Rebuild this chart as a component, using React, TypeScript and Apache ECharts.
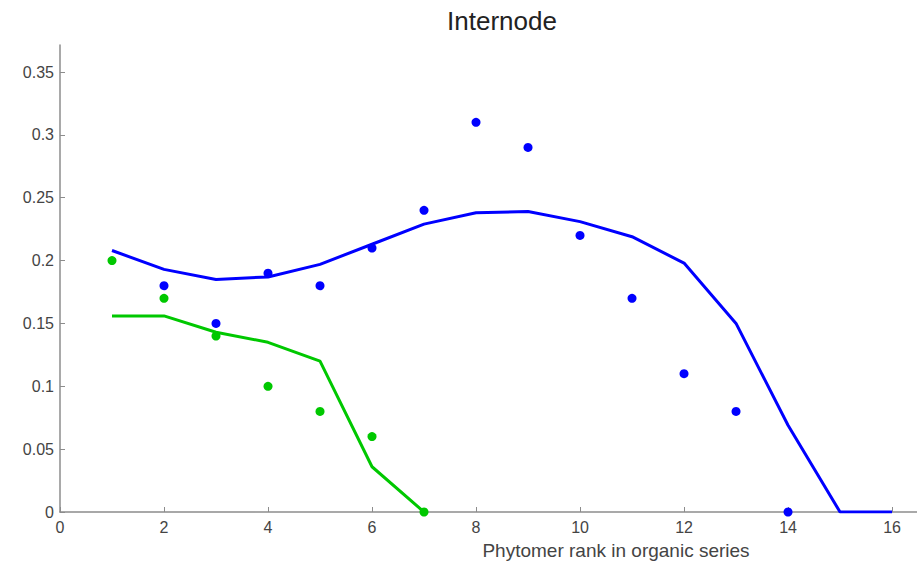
import React, { useEffect, useRef } from "react";
import * as echarts from "echarts";

const blueDotX = [2, 3, 4, 5, 6, 7, 8, 9, 10, 11, 12, 13, 14];
const blueDotY = [0.18, 0.15, 0.19, 0.18, 0.21, 0.24, 0.31, 0.29, 0.22, 0.17, 0.11, 0.08, 0];
const greenDotX = [1, 2, 3, 4, 5, 6, 7];
const greenDotY = [0.2, 0.17, 0.14, 0.1, 0.08, 0.06, 0];
const blueLineX = [1, 2, 3, 4, 5, 6, 7, 8, 9, 10, 11, 12, 13, 14, 15, 16];
const blueLineY = [0.208, 0.193, 0.185, 0.187, 0.197, 0.213, 0.229, 0.238, 0.239, 0.231, 0.219, 0.198, 0.15, 0.069, 0, 0];
const greenLineX = [1, 2, 3, 4, 5, 6, 7];
const greenLineY = [0.156, 0.156, 0.143, 0.135, 0.12, 0.036, 0];

const title = "Internode";
const xName = "Phytomer rank in organic series";

const zip = (xs: number[], ys: number[]) => xs.map((x, i) => [x, ys[i]]);

export default function App() {
  const ref = useRef<HTMLDivElement>(null);
  useEffect(() => {
    if (!ref.current) return;
    const chart = echarts.init(ref.current, null, { renderer: "svg" });
    const axisColor = "#8c8c8c";
    const font = "Liberation Sans, Arial, sans-serif";
    const labelStyle = { color: "#444", fontSize: 16, fontFamily: font };
    chart.setOption({
      animation: false,
      backgroundColor: "#fff",
      grid: { left: 60, top: 45, right: 0, bottom: 55, containLabel: false },
      xAxis: {
        type: "value",
        min: 0,
        max: 16.48,
        interval: 2,
        splitLine: { show: false },
        axisLine: { lineStyle: { color: axisColor, width: 1.5 } },
        axisTick: { inside: true, length: 5, lineStyle: { color: axisColor } },
        axisLabel: {
          ...labelStyle,
          margin: 7,
          showMaxLabel: false,
          formatter: (v: number) => (Math.abs(v / 2 - Math.round(v / 2)) < 1e-6 ? String(v) : ""),
        },
      },
      yAxis: {
        type: "value",
        min: 0,
        max: 0.3715,
        interval: 0.05,
        splitLine: { show: false },
        axisLine: { show: true, lineStyle: { color: axisColor, width: 1.5 } },
        axisTick: { show: true, inside: true, length: 5, lineStyle: { color: axisColor } },
        axisLabel: {
          ...labelStyle,
          margin: 6,
          showMaxLabel: false,
          formatter: (v: number) => {
            const k = v / 0.05;
            if (Math.abs(k - Math.round(k)) > 1e-6) return "";
            return String(Math.round(v * 100) / 100);
          },
        },
      },
      graphic: [
        {
          type: "text",
          x: 502,
          y: 21,
          style: {
            text: title,
            fontSize: 26,
            fill: "#222",
            align: "center",
            verticalAlign: "middle",
            fontFamily: font,
          },
        },
        {
          type: "text",
          x: 616,
          y: 550,
          style: {
            text: xName,
            fontSize: 19,
            fill: "#444",
            align: "center",
            verticalAlign: "middle",
            fontFamily: font,
          },
        },
      ],
      series: [
        {
          type: "line",
          data: zip(blueLineX, blueLineY),
          symbol: "none",
          lineStyle: { color: "#0000ff", width: 3 },
          z: 2,
        },
        {
          type: "line",
          data: zip(greenLineX, greenLineY),
          symbol: "none",
          lineStyle: { color: "#00c800", width: 3 },
          z: 2,
        },
        {
          type: "scatter",
          data: zip(blueDotX, blueDotY),
          symbolSize: 9,
          itemStyle: { color: "#0000ff", opacity: 1 },
          z: 3,
        },
        {
          type: "scatter",
          data: zip(greenDotX, greenDotY),
          symbolSize: 9,
          itemStyle: { color: "#00c800", opacity: 1 },
          z: 3,
        },
      ],
    });
    return () => chart.dispose();
  }, []);
  return <div ref={ref} style={{ width: 917, height: 567, position: "fixed", left: 0, top: 0 }} />;
}
